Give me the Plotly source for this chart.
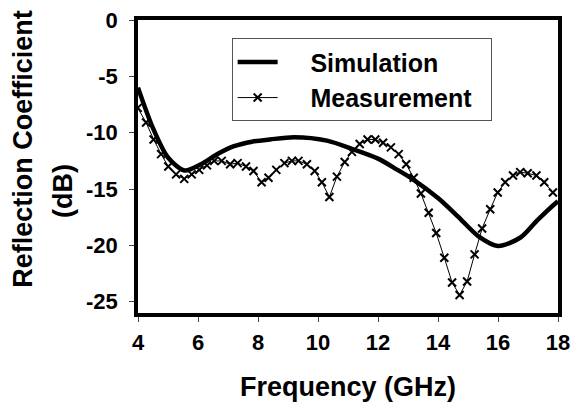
import plotly.graph_objects as go

# Simulation curve (frequency GHz, reflection coefficient dB)
sim_freq = [4.0, 4.5, 5.0, 5.55, 6.1, 6.65, 7.2, 7.8, 8.4, 9.2, 10.3, 11.2, 12.0,
            12.65, 13.2, 14.0, 14.65, 15.35, 16.0, 16.75, 17.3, 17.9, 18.0]
sim_db = [-6.0, -9.6, -12.2, -13.35, -12.8, -11.9, -11.2, -10.8, -10.6, -10.4, -10.7,
          -11.5, -12.3, -13.3, -14.2, -15.8, -17.4, -19.2, -20.05, -19.3, -17.8, -16.3, -16.1]

# Measurement samples
meas_freq = [3.99, 4.27, 4.52, 4.77, 5.01, 5.27, 5.54, 5.79, 6.04, 6.30, 6.54, 6.79,
             7.07, 7.32, 7.60, 7.85, 8.12, 8.35, 8.61, 8.88, 9.13, 9.35, 9.63, 9.89,
             10.13, 10.38, 10.63, 10.89, 11.13, 11.39, 11.65, 11.91, 12.17, 12.43,
             12.69, 12.94, 13.19, 13.43, 13.69, 13.94, 14.21, 14.47, 14.72, 14.97,
             15.22, 15.47, 15.74, 15.99, 16.24, 16.50, 16.74, 16.99, 17.28, 17.54, 17.83]
meas_db = [-7.8, -9.1, -10.6, -11.9, -13.0, -13.7, -14.1, -13.7, -13.3, -12.9, -12.5, -12.5,
           -12.8, -12.7, -13.0, -13.4, -14.4, -14.0, -13.3, -12.7, -12.5, -12.5, -12.8, -13.4,
           -14.4, -15.7, -13.9, -12.6, -11.7, -11.0, -10.6, -10.6, -10.9, -11.3,
           -11.9, -12.8, -14.0, -15.4, -17.1, -18.9, -21.1, -23.3, -24.4, -23.2,
           -20.8, -18.5, -16.8, -15.3, -14.4, -13.8, -13.5, -13.6, -13.8, -14.4, -15.3]

x_ticks = [4, 6, 8, 10, 12, 14, 16, 18]
y_ticks = [0, -5, -10, -15, -20, -25]

FONT = "Liberation Sans, Arial, sans-serif"
PAD = "\u00a0" * 4
TAIL = "\u00a0" * 2

fig = go.Figure()
fig.add_trace(go.Scatter(
    x=sim_freq, y=sim_db, mode="lines", name=PAD + "Simulation" + TAIL,
    line=dict(color="black", width=4.5, shape="spline", smoothing=0.8),
))
fig.add_trace(go.Scatter(
    x=meas_freq, y=meas_db, mode="lines+markers", name=PAD + "Measurement" + TAIL,
    line=dict(color="black", width=1),
    marker=dict(symbol="x-thin", size=8, color="black",
                line=dict(color="black", width=2)),
))

fig.update_layout(
    width=574, height=395,
    margin=dict(l=130, r=24, t=12, b=90, autoexpand=False),
    paper_bgcolor="white", plot_bgcolor="white",
    font=dict(family=FONT, color="black"),
    showlegend=True,
    legend=dict(
        x=0.223, y=0.9375, xanchor="left", yanchor="top",
        bgcolor="white", bordercolor="#555555", borderwidth=1,
        font=dict(family=FONT, size=25, color="black", weight="bold"),
        tracegroupgap=0, itemwidth=40,
    ),
    xaxis=dict(
        range=[4, 18], tickvals=x_ticks, ticktext=[str(v) for v in x_ticks],
        showline=True, linecolor="black", linewidth=3.5, mirror=True,
        showgrid=False, zeroline=False, automargin=False,
        ticks="outside", ticklen=5, tickwidth=1, tickcolor="#444444",
        tickfont=dict(family=FONT, size=22, color="black", weight="bold"),
        ticklabelstandoff=2, ticklabeloverflow="allow",
    ),
    yaxis=dict(
        range=[-26, 0], tickvals=y_ticks, ticktext=[str(v) for v in y_ticks],
        showline=True, linecolor="black", linewidth=3.5, mirror=True,
        showgrid=False, zeroline=False, automargin=False,
        ticks="outside", ticklen=5, tickwidth=1, tickcolor="#444444",
        tickfont=dict(family=FONT, size=22, color="black", weight="bold"),
        ticklabelstandoff=7, ticklabeloverflow="allow",
    ),
    annotations=[
        dict(text="Frequency (GHz)", xref="paper", yref="paper", x=0.5, y=-0.251,
             xanchor="center", yanchor="middle", showarrow=False,
             font=dict(family=FONT, size=27, color="black", weight="bold")),
        dict(text="Reflection Coefficient", xref="paper", yref="paper", x=-0.273, y=0.562,
             xanchor="center", yanchor="middle", showarrow=False, textangle=-90,
             font=dict(family=FONT, size=27, color="black", weight="bold")),
        dict(text="(dB)", xref="paper", yref="paper", x=-0.177, y=0.415,
             xanchor="center", yanchor="middle", showarrow=False, textangle=-90,
             font=dict(family=FONT, size=27, color="black", weight="bold")),
    ],
)

fig.write_html("out.html")
